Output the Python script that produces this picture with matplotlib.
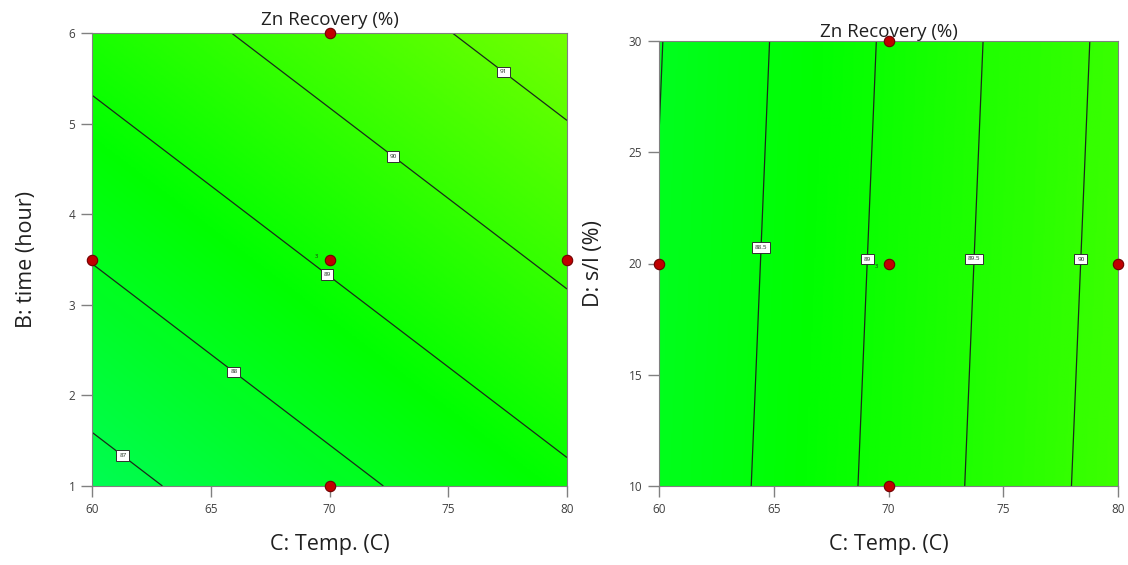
import numpy as np
import matplotlib
matplotlib.use("Agg")
import matplotlib.pyplot as plt
from matplotlib.colors import LinearSegmentedColormap, Normalize

plt.rcParams['font.family'] = ['Open Sans', 'DejaVu Sans']

# ---- data ----
temp_range = [60, 80]
time_range = [1, 6]
sl_range = [10, 30]

# fitted response surface (value at centre and linear effects per unit)
center_value = 89.1
center_temp, center_time, center_sl = 70, 3.5, 20
coef_temp = 0.1075    # per degree C
coef_time = 0.5375    # per hour
coef_sl = -0.0043     # per % s/l

levels_left = [87, 88, 89, 90, 91]
levels_right = [88, 88.5, 89, 89.5, 90]

label_pos_left = [(61.4, 1.37), (66.0, 2.27), (70.0, 3.37), (72.7, 4.65), (77.4, 5.6)]
label_pos_right = [(64.6, 20.7), (69.0, 20.2), (73.8, 20.2), (78.4, 20.2)]

design_temp_left = [60, 70, 80, 70, 70]
design_time_left = [3.5, 3.5, 3.5, 1, 6]
design_temp_right = [60, 70, 80, 70, 70]
design_sl_right = [20, 20, 20, 10, 30]

title = "Zn Recovery (%)"
xlabel = "C: Temp. (C)"
ylabel_left = "B: time (hour)"
ylabel_right = "D: s/l (%)"

# ---- colour map (Design-Expert style) ----
cmap = LinearSegmentedColormap.from_list(
    "de", [(0.0, "#00f8f8"), (0.5, "#00ff00"), (1.0, "#ffff00")])
norm = Normalize(vmin=82.5, vmax=95.0)

fig = plt.figure(figsize=(11.28, 5.65), dpi=100)
ax1 = fig.add_axes([92/1128, 1-486/565, 475/1128, 453/565])
ax2 = fig.add_axes([659/1128, 1-486/565, 459/1128, 445/565])

def style(ax, xr, yr, yticks, ylabel, tpad, ylpad):
    ax.set_xlim(xr)
    ax.set_ylim(yr)
    ax.set_xticks([60, 65, 70, 75, 80])
    ax.set_yticks(yticks)
    ax.tick_params(direction='out', length=8, width=1, color='#808080',
                   labelsize=8.5, labelcolor='#404040', pad=4)
    for s in ax.spines.values():
        s.set_color('#808080')
        s.set_linewidth(0.8)
    ax.set_xlabel(xlabel, fontsize=15.5, labelpad=13, color='#202020')
    ax.set_ylabel(ylabel, fontsize=15.5, labelpad=ylpad, color='#202020')
    ax.set_title(title, fontsize=13.5, pad=tpad, color='#202020')

def box_labels(labels):
    for t in labels:
        t.set_rotation(0)
        t.set_bbox(dict(boxstyle='square,pad=0.45', fc='white', ec='#303030', lw=0.7))

# left panel
T = np.linspace(60, 80, 300)
H = np.linspace(1, 6, 300)
TT, HH = np.meshgrid(T, H)
Z1 = center_value + coef_temp*(TT-center_temp) + coef_time*(HH-center_time)
ax1.imshow(Z1, extent=[60, 80, 1, 6], origin='lower', aspect='auto',
           cmap=cmap, norm=norm, interpolation='bilinear')
cs1 = ax1.contour(TT, HH, Z1, levels=levels_left, colors='#1a2a1a', linewidths=0.9)
box_labels(ax1.clabel(cs1, inline=False, fontsize=4.5, fmt='%g', manual=label_pos_left))
ax1.plot(design_temp_left, design_time_left, 'o', ms=7.5, mfc='#c00000',
         mec='#700000', mew=0.8, clip_on=False, zorder=5)
ax1.text(69.5, 3.53, "3", fontsize=4, color='#202020', ha='right', va='center')
style(ax1, temp_range, time_range, [1, 2, 3, 4, 5, 6], ylabel_left, 6, 23)

# right panel
S = np.linspace(10, 30, 300)
TT2, SS = np.meshgrid(T, S)
Z2 = center_value + coef_temp*(TT2-center_temp) + coef_sl*(SS-center_sl)
ax2.imshow(Z2, extent=[60, 80, 10, 30], origin='lower', aspect='auto',
           cmap=cmap, norm=norm, interpolation='bilinear')
cs2 = ax2.contour(TT2, SS, Z2, levels=levels_right, colors='#1a2a1a', linewidths=0.9)
box_labels(ax2.clabel(cs2, inline=False, fontsize=4.5, fmt='%g', manual=label_pos_right))
ax2.plot(design_temp_right, design_sl_right, 'o', ms=7.5, mfc='#c00000',
         mec='#700000', mew=0.8, clip_on=False, zorder=5)
ax2.text(69.55, 19.85, "3", fontsize=4, color='#202020', ha='right', va='center')
style(ax2, temp_range, sl_range, [10, 15, 20, 25, 30], ylabel_right, 2, 18)

fig.savefig("out.png", dpi=100)
